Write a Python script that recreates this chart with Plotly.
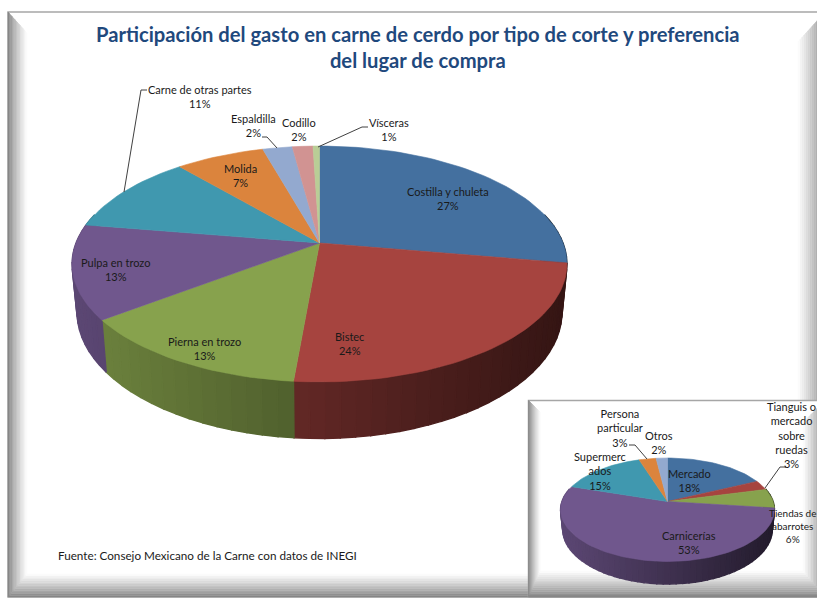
import math
import plotly.graph_objects as go

TITLE = "Participación del gasto en carne de cerdo por tipo de corte y preferencia<br>del lugar de compra"
SOURCE = "Fuente: Consejo Mexicano de la Carne con datos de INEGI"

cut_names = ["Costilla y chuleta", "Bistec", "Pierna en trozo", "Pulpa en trozo", "Carne de otras partes",
             "Molida", "Espaldilla", "Codillo", "Vísceras"]
cut_values = [27.7, 23.7, 13.3, 12.9, 11.1, 6.9, 2.3, 1.6, 0.5]
cut_shown = [27, 24, 13, 13, 11, 7, 2, 2, 1]

place_names = ["Mercado", "Tianguis o<br>mercado<br>sobre<br>ruedas", "Tiendas de<br>abarrotes", "Carnicerías",
               "Supermerc<br>ados", "Persona<br>particular", "Otros"]
place_values = [18, 3, 6, 53, 15, 3, 2]

PALETTE = ["#44709F", "#A6443F", "#87A24D", "#70578D", "#4098AF", "#DB843D", "#93A9CF", "#D19392", "#B9CD96"]
FONT = "Lato"

main_pie = dict(cx=319.5, cy=243, rx=243.5, ry=114.2, k=0.178, d=46.5, taper=0.98)
inset_pie = dict(cx=667.5, cy=501.5, rx=105.6, ry=50.4, k=0.159, d=19, taper=0.98)

main_labels = [(448, 198), (349, 343), (204, 348), (115, 269), (200, 96), (240, 175), (253, 125), (299, 129), (389, 129)]
inset_labels = [(689, 480), (791, 435), (792, 526), (689, 542), (600, 471), (620, 428), (658.5, 442)]
label_sizes = [11, 11, 10, 11, 11, 11, 11]

main_leaders = [[(124, 192), (141, 90), (147, 90)], [(277, 148), (267, 137), (262, 137)], [(318, 147), (362, 127), (368, 127)]]
inset_leaders = [[(647, 459), (635, 445), (629, 445)], [(765, 488), (780, 467), (786, 467)]]


def hex_scaled(c, f):
    r, g, b = int(c[1:3], 16), int(c[3:5], 16), int(c[5:7], 16)
    return f"rgb({int(r * f)},{int(g * f)},{int(b * f)})"


def project(p, a, drop=False):
    u, v = math.sin(a), -math.cos(a)
    w = 1 - p["k"] * v
    x = p["rx"] * u / w
    y = p["cy"] + p["ry"] * v / w
    if drop:
        y += p["d"] / w
        x *= p["taper"]
    return p["cx"] + x, y


def add_poly(fig, xs, ys, color, name=None, width=0.6):
    fig.add_trace(go.Scatter(x=xs, y=ys, mode="lines", fill="toself", fillcolor=color,
                             line=dict(color=color, width=width), showlegend=False,
                             hoverinfo="text" if name else "skip", text=name))


def add_pie(fig, p, values, names):
    total = sum(values)
    start = 0.0
    spans = []
    for i, val in enumerate(values):
        end = start + val / total * 2 * math.pi
        spans.append((start, end, PALETTE[i % len(PALETTE)], names[i]))
        start = end
    for a0, a1, col, _ in spans:
        lo, hi = max(a0, math.radians(75)), min(a1, math.radians(285))
        if hi <= lo:
            continue
        n = max(2, int((hi - lo) / math.radians(3)))
        for j in range(n):
            b0 = lo + (hi - lo) * j / n
            b1 = lo + (hi - lo) * (j + 1) / n
            x0, y0 = project(p, b0)
            x1, y1 = project(p, b1)
            x0d, y0d = project(p, b0, True)
            x1d, y1d = project(p, b1, True)
            t = ((x0 + x1) / 2 - (p["cx"] - p["rx"])) / (2 * p["rx"])
            f = 0.82 - 0.5 * min(max(t, 0), 1)
            add_poly(fig, [x0, x1, x1d, x0d, x0], [y0, y1, y1d, y0d, y0], hex_scaled(col, f), width=1.4)
    for a0, a1, col, nm in spans:
        n = max(2, int((a1 - a0) / math.radians(2)))
        pts = [project(p, a0 + (a1 - a0) * j / n) for j in range(n + 1)]
        xs = [p["cx"]] + [q[0] for q in pts] + [p["cx"]]
        ys = [p["cy"]] + [q[1] for q in pts] + [p["cy"]]
        add_poly(fig, xs, ys, col, nm.replace("<br>", " "))


def gray(t, lo=125):
    v = int(lo + (255 - lo) * min(max(t, 0), 1))
    return f"rgb({v},{v},{v})"


def band(shapes, outer, inner, steps=14, lo=125, power=1.0):
    for i in range(steps):
        t0, t1 = i / steps, (i + 1) / steps
        q = [(outer[k][0] + (inner[k][0] - outer[k][0]) * t, outer[k][1] + (inner[k][1] - outer[k][1]) * t)
             for k, t in ((0, t0), (1, t0), (1, t1), (0, t1))]
        path = "M" + " L".join(f"{a:.1f},{b:.1f}" for a, b in q) + " Z"
        c = gray(((t0 + t1) / 2) ** power, lo)
        shapes.append(dict(type="path", path=path, fillcolor=c, line=dict(width=0.5, color=c), layer="below"))


def frame(shapes, x0, y0, x1, y1, lb, rb, tb, bb):
    shapes.append(dict(type="rect", x0=x0, y0=y0, x1=x1, y1=y1, fillcolor="white",
                       line=dict(color="#A6A6A6", width=1.5), layer="below"))
    band(shapes, [(x0, y0), (x0, y1)], [(x0 + lb, y0 + tb), (x0 + lb, y1 - bb)], power=0.8)
    band(shapes, [(x1, y0), (x1, y1)], [(x1 - rb, y0 + rb * tb / lb), (x1 - rb, y1 - bb)], power=0.8)
    band(shapes, [(x0, y1), (x1, y1)], [(x0 + lb, y1 - bb), (x1 - rb, y1 - bb)], lo=125, power=0.8)


fig = go.Figure()
shapes = []
frame(shapes, 8, 12, 825, 597, 19, 27, 21, 23)
frame(shapes, 528.5, 400.5, 825, 597, 12, 22, 12, 26)

add_pie(fig, main_pie, cut_values, cut_names)
add_pie(fig, inset_pie, place_values, place_names)

for line in main_leaders + inset_leaders:
    fig.add_trace(go.Scatter(x=[q[0] for q in line], y=[q[1] for q in line], mode="lines",
                             line=dict(color="#404040", width=1), showlegend=False, hoverinfo="skip"))

ann = []
for nm, sh, (x, y) in zip(cut_names, cut_shown, main_labels):
    ann.append(dict(x=x, y=y, text=f"{nm}<br>{sh}%", showarrow=False, xanchor="center", yanchor="middle",
                    font=dict(family=FONT, size=11, color="#1a1a1a")))
for nm, val, (x, y), sz in zip(place_names, place_values, inset_labels, label_sizes):
    ann.append(dict(x=x, y=y, text=f"{nm}<br>{val}%", showarrow=False, xanchor="center", yanchor="middle",
                    font=dict(family=FONT, size=sz, color="#1a1a1a")))
ann.append(dict(x=418, y=47, text=f"<b>{TITLE}</b>", showarrow=False, xanchor="center", yanchor="middle",
                font=dict(family=FONT, size=20.2, color="#1F497D")))
ann.append(dict(x=56, y=555, text=SOURCE, showarrow=False, xanchor="left", yanchor="middle",
                font=dict(family=FONT, size=11.7, color="#1a1a1a")))

fig.update_layout(
    width=817, height=599, margin=dict(l=0, r=0, t=0, b=0), autosize=False,
    paper_bgcolor="white", plot_bgcolor="rgba(0,0,0,0)",
    xaxis=dict(range=[0, 817], visible=False, fixedrange=True),
    yaxis=dict(range=[599, 0], visible=False, fixedrange=True),
    shapes=shapes, annotations=ann, showlegend=False,
)
fig.write_html("out.html", config={"displayModeBar": False},
               post_script="document.body.style.margin='0';document.documentElement.style.overflow='hidden';")
